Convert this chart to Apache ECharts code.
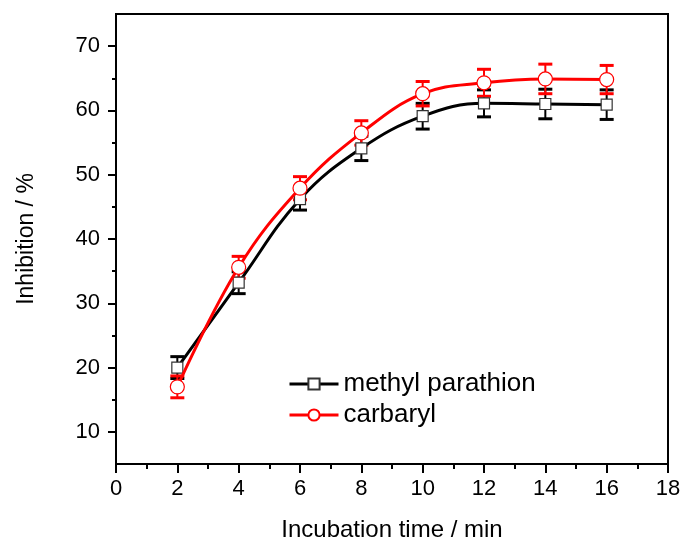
<!DOCTYPE html>
<html>
<head>
<meta charset="utf-8">
<script src="https://cdn.jsdelivr.net/npm/echarts@6/dist/echarts.min.js"></script>
<style>
  html, body { margin: 0; padding: 0; background: #fff; }
  #chart { width: 684px; height: 547px; }
</style>
</head>
<body>
<div id="chart"></div>
<script>
// incubation time (min)
var times = [2, 4, 6, 8, 10, 12, 14, 16];
// inhibition (%) and error bars
var methylValues = [20.0, 33.2, 46.2, 54.1, 59.1, 61.1, 61.0, 60.9];
var methylErrors = [1.7, 1.7, 1.7, 1.9, 2.0, 2.1, 2.3, 2.3];
var carbarylValues = [17.0, 35.6, 47.9, 56.5, 62.6, 64.3, 64.9, 64.8];
var carbarylErrors = [1.7, 1.7, 1.8, 1.9, 1.9, 2.1, 2.3, 2.2];
var yMajorTicks = [10, 20, 30, 40, 50, 60, 70];
var yMinorTicks = [15, 25, 35, 45, 55, 65];

var chart = echarts.init(document.getElementById('chart'));

function pairs(xs, ys) {
    var out = [];
    for (var i = 0; i < xs.length; i++) out.push([xs[i], ys[i]]);
    return out;
}
function errData(xs, ys, es) {
    var out = [];
    for (var i = 0; i < xs.length; i++) out.push([xs[i], ys[i], es[i]]);
    return out;
}
// error bar drawer
function errRenderer(color) {
    return function (params, api) {
        var xv = api.value(0), yv = api.value(1), e = api.value(2);
        var hi = api.coord([xv, yv + e]);
        var lo = api.coord([xv, yv - e]);
        var half = 7;
        return {
            type: 'group',
            children: [
                {type: 'line', shape: {x1: hi[0], y1: hi[1], x2: lo[0], y2: lo[1]},
                    style: {stroke: color, lineWidth: 2}},
                {type: 'line', shape: {x1: hi[0] - half, y1: hi[1], x2: hi[0] + half, y2: hi[1]},
                    style: {stroke: color, lineWidth: 3}},
                {type: 'line', shape: {x1: lo[0] - half, y1: lo[1], x2: lo[0] + half, y2: lo[1]},
                    style: {stroke: color, lineWidth: 3}}
            ]
        };
    };
}

var font = '"Liberation Sans", Arial, sans-serif';

var option = {
    animation: false,
    backgroundColor: '#fff',
    grid: {
        left: 116, right: 16, top: 14, bottom: 83,
        show: true, borderColor: '#000', borderWidth: 2
    },
    legend: {
        data: [
            {name: 'methyl parathion'},
            {name: 'carbaryl'}
        ],
        orient: 'vertical',
        left: 288,
        top: 371,
        padding: 0,
        itemWidth: 49,
        itemHeight: 14,
        itemGap: 5,
        lineStyle: {width: 3},
        textStyle: {fontFamily: font, fontSize: 26, color: '#000'}
    },
    xAxis: {
        type: 'value',
        min: 0, max: 18, interval: 2,
        name: 'Incubation time / min',
        nameLocation: 'middle',
        nameGap: 54,
        nameTextStyle: {fontFamily: font, fontSize: 24, color: '#000'},
        axisLine: {show: true, lineStyle: {color: '#000', width: 2}},
        axisTick: {show: true, inside: false, length: 9, lineStyle: {color: '#000', width: 2}},
        minorTick: {show: true, splitNumber: 2, length: 5, lineStyle: {color: '#000', width: 2}},
        axisLabel: {fontFamily: font, fontSize: 22, color: '#000', margin: 14},
        splitLine: {show: false}
    },
    yAxis: [
        {
            type: 'value',
            min: 5, max: 75, interval: 5,
            name: 'Inhibition / %',
            nameLocation: 'middle',
            nameGap: 78,
            nameTextStyle: {fontFamily: font, fontSize: 23, color: '#000'},
            axisLine: {show: true, lineStyle: {color: '#000', width: 2}},
            axisTick: {show: true, length: 8, customValues: yMajorTicks, lineStyle: {color: '#000', width: 2}},
            axisLabel: {fontFamily: font, fontSize: 22, color: '#000', margin: 16, customValues: yMajorTicks},
            splitLine: {show: false}
        },
        {
            type: 'value',
            min: 5, max: 75, interval: 5,
            position: 'left',
            axisLine: {show: false},
            axisTick: {show: true, length: 4, customValues: yMinorTicks, lineStyle: {color: '#000', width: 2}},
            axisLabel: {show: false},
            splitLine: {show: false}
        }
    ],
    series: [
        {
            name: 'methyl parathion err',
            type: 'custom',
            renderItem: errRenderer('#000'),
            data: errData(times, methylValues, methylErrors),
            encode: {x: 0, y: 1},
            z: 1
        },
        {
            name: 'carbaryl err',
            type: 'custom',
            renderItem: errRenderer('#ff0000'),
            data: errData(times, carbarylValues, carbarylErrors),
            encode: {x: 0, y: 1},
            z: 1
        },
        {
            name: 'methyl parathion',
            type: 'line',
            data: pairs(times, methylValues),
            smooth: 0.4,
            symbol: 'rect',
            symbolSize: 11,
            lineStyle: {color: '#000', width: 3},
            itemStyle: {color: '#fff', borderColor: '#333', borderWidth: 1.2},
            z: 2
        },
        {
            name: 'carbaryl',
            type: 'line',
            data: pairs(times, carbarylValues),
            smooth: 0.4,
            symbol: 'circle',
            symbolSize: 14,
            lineStyle: {color: '#ff0000', width: 3},
            itemStyle: {color: '#fff', borderColor: '#ff0000', borderWidth: 1.2},
            z: 3
        }
    ]
};

chart.setOption(option);
</script>
</body>
</html>
